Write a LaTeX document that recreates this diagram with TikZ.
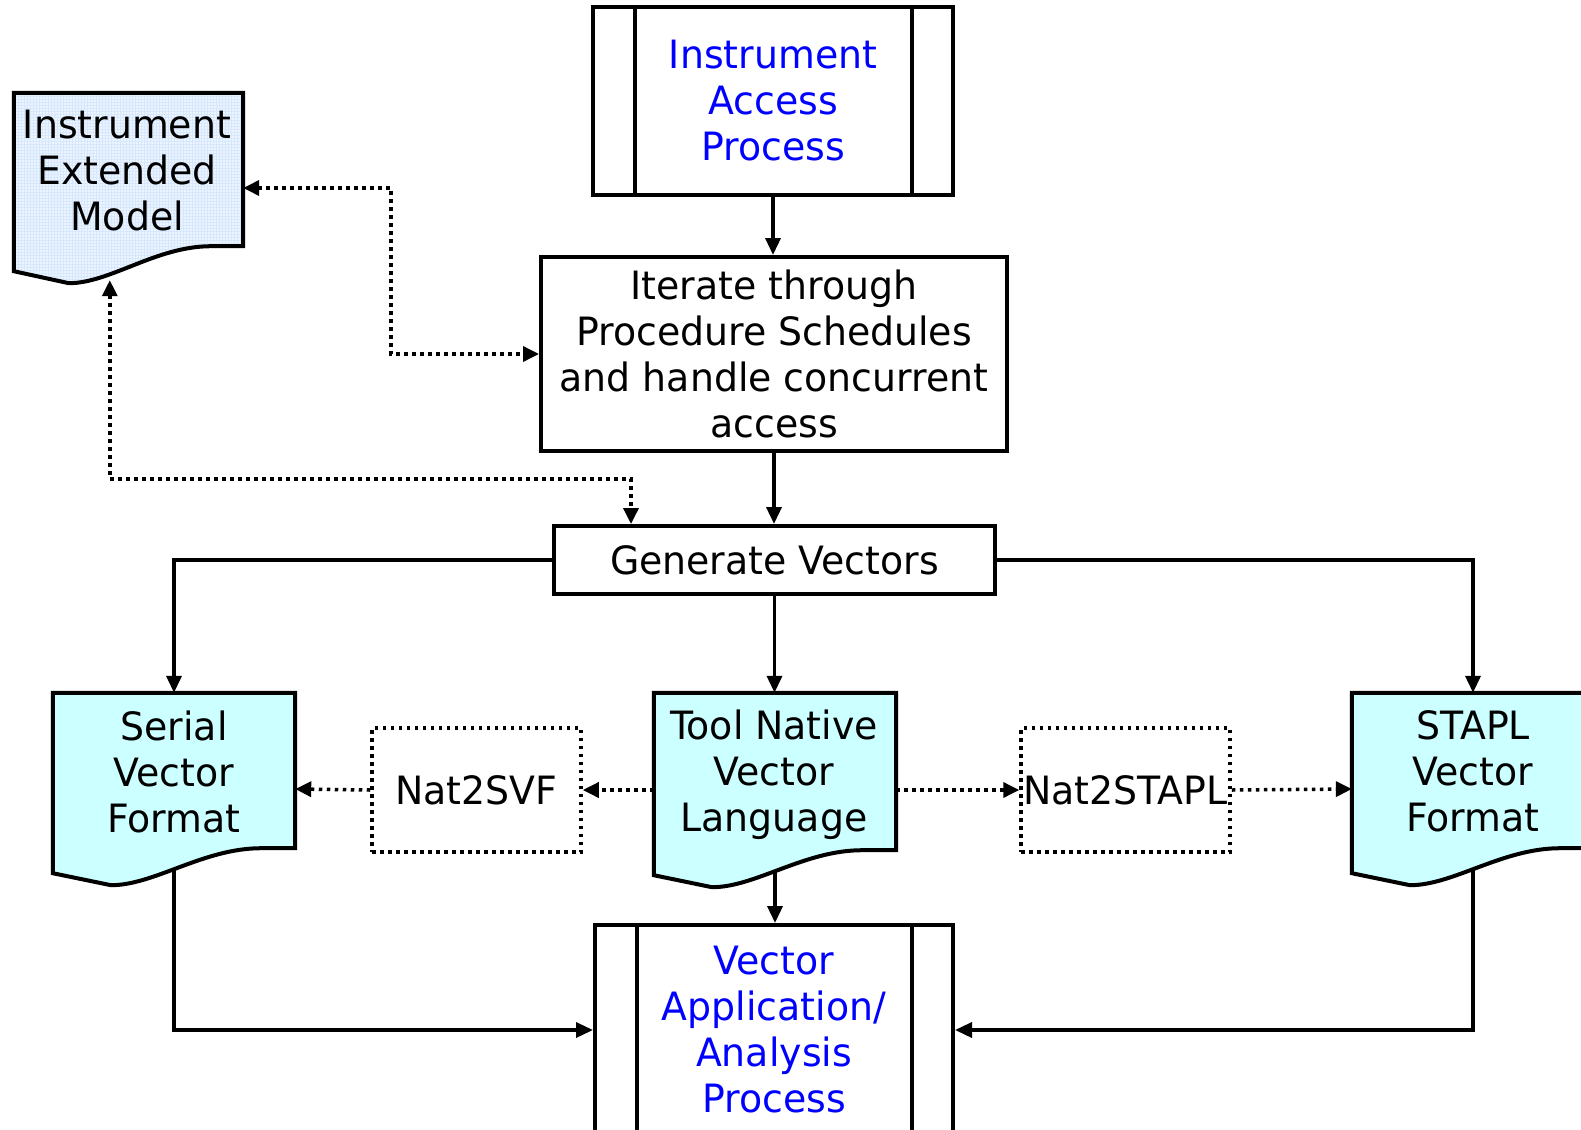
\documentclass[tikz,border=0pt]{standalone}
\usepackage{fontspec}
\setmainfont{DejaVu Sans}[FakeStretch=0.97]
\usetikzlibrary{calc,arrows.meta}

\definecolor{docblue}{RGB}{204,255,255}
\definecolor{modelblue}{RGB}{236,245,255}
\definecolor{modelgrid}{RGB}{216,232,252}
\definecolor{procblue}{RGB}{0,0,255}

\pgfdeclarelayer{lines}
\pgfdeclarelayer{shapes}
\pgfsetlayers{lines,shapes,main}

\tikzset{
  every node/.style={font=\fontsize{39pt}{46pt}\selectfont, inner sep=0pt, align=center},
  stepbox/.style={draw, line width=4pt, rectangle},
  procbox/.style={stepbox, text=procblue},
  sideline/.style={line width=4pt},
  docframe/.style={rectangle},
  docline/.style={draw, line width=4pt, line join=miter},
  dotbox/.style={draw, line width=3.5pt, dash pattern=on 3.5pt off 4.5pt, rectangle},
  tip/.style={-{Triangle[length=17pt,width=15pt]}},
  flow/.style={line width=3.5pt, tip},
  dotflow/.style={line width=3.5pt, dash pattern=on 3.5pt off 4.5pt,
                  -{Triangle[length=16pt,width=15pt]}},
  twoway/.style={{Triangle[length=16pt,width=15pt]}-{Triangle[length=16pt,width=15pt]}},
  % outline of a document symbol fitted to a rectangular node
  docpath/.style={insert path={
    (#1.north west) -- (#1.north east)
    -- ($(#1.south east)+(0,-37)$)
    -- ($(#1.south west)!0.86!(#1.south east)+(0,-37)$)
    .. controls ($(#1.south west)!0.62!(#1.south east)+(0,-37)$)
           and ($(#1.south west)!0.42!(#1.south east)$)
    .. ($(#1.south west)!0.24!(#1.south east)$)
    -- ($(#1.south west)+(0,-12)$) -- cycle}}
}

\begin{document}
\begin{tikzpicture}[x=1pt, y=-1pt]
\useasboundingbox (0,0) rectangle (1581,1129);

% process boxes
\node[procbox, minimum width=360pt, minimum height=188pt] (iap) at (773,101)
  {Instrument\\Access\\Process};
\draw[sideline] ($(iap.north west)+(44,0)$) -- ($(iap.south west)+(44,0)$);
\draw[sideline] ($(iap.north east)+(-43,0)$) -- ($(iap.south east)+(-43,0)$);

\node[stepbox, minimum width=466pt, minimum height=194pt] (iter) at (774,354)
  {Iterate through\\Procedure Schedules\\and handle concurrent\\access};

\node[stepbox, minimum width=441pt, minimum height=68pt] (gv) at (774.5,560)
  {Generate Vectors};

\node[procbox, minimum width=358pt, minimum height=210pt] (vap) at (774,1030)
  {Vector\\Application/\\Analysis\\Process};
\draw[sideline] ($(vap.north west)+(44,0)$) -- ($(vap.south west)+(44,0)$);
\draw[sideline] ($(vap.north east)+(-43,0)$) -- ($(vap.south east)+(-43,0)$);

% converters
\node[dotbox, minimum width=209pt, minimum height=124pt] (n2s) at (476.5,790) {Nat2SVF};
\node[dotbox, minimum width=209pt, minimum height=124pt] (n2t) at (1125.5,790) {Nat2STAPL};

% documents
\node[docframe, minimum width=229pt, minimum height=190pt] (iem) at (128.5,188) {};
\node (iem-t) at (127,171) {Instrument\\Extended\\Model};
\node[docframe, minimum width=242pt, minimum height=192pt] (svf) at (174,789) {};
\node (svf-t) at (174,772) {Serial\\Vector\\Format};
\node[docframe, minimum width=242pt, minimum height=194pt] (tnvl) at (775,790) {};
\node (tnvl-t) at (774,775) {Tool Native\\Vector\\Language};
\node[docframe, minimum width=242pt, minimum height=192pt] (stapl) at (1473,789) {};
\node (stapl-t) at (1473,771) {STAPL\\Vector\\Format};

\coordinate (iem-in) at ($(iem.south west)+(96,-3)$);
\coordinate (gv-in) at ($(gv.north west)+(79,0)$);

\begin{pgfonlayer}{shapes}
  \fill[modelblue, docpath=iem];
  \begin{scope}
    \clip[docpath=iem];
    \draw[modelgrid, line width=0.6pt, step=3pt] (iem.north west) grid (iem.south east);
  \end{scope}
  \draw[docline, docpath=iem];
  \draw[docline, fill=docblue, docpath=svf];
  \draw[docline, fill=docblue, docpath=tnvl];
  \draw[docline, fill=docblue, docpath=stapl];
\end{pgfonlayer}

\begin{pgfonlayer}{lines}
  % main flow
  \draw[flow] (iap.south) -- (iap.south |- iter.north);
  \draw[flow] (iter.south) -- (iter.south |- gv.north);
  \draw[flow] (gv.west) -| (svf.north);
  \draw[flow] (gv.east) -| (stapl.north);
  \draw[flow] (gv.south) -- (gv.south |- tnvl.north);
  \draw[flow] (tnvl.center) -- (tnvl.center |- vap.north);
  \draw[flow] (svf.center) |- (vap.west);
  \draw[flow] (stapl.center) |- (vap.east);
  % conversions
  \draw[dotflow] (tnvl.west) -- (n2s.east);
  \draw[dotflow] (n2s.west) -- (svf.east);
  \draw[dotflow] (tnvl.east) -- (n2t.west);
  \draw[dotflow] (n2t.east) -- (stapl.west);
  % model access
  \draw[dotflow, twoway] (iem.east) -| ($(iem.east)!0.5!(iter.west)$) |- (iter.west);
  \draw[dotflow, twoway] (iem-in) |- ($(gv-in)+(0,-45)$) -- (gv-in);
\end{pgfonlayer}
\end{tikzpicture}
\end{document}
